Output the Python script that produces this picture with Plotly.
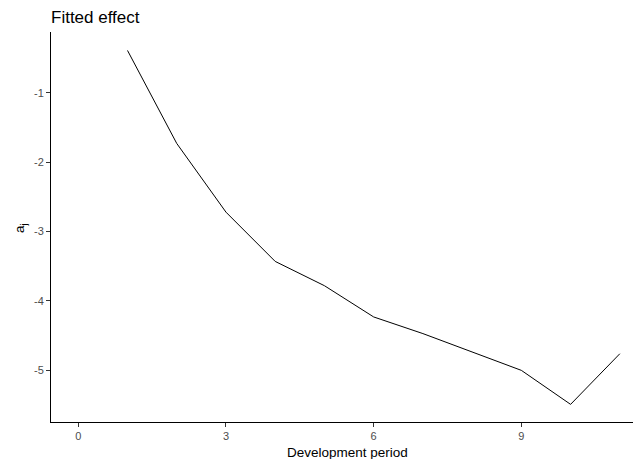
import plotly.graph_objects as go

dev_period = [1, 2, 3, 4, 5, 6, 7, 8, 9, 10, 11]
effect = [-0.39, -1.73, -2.72, -3.43, -3.78, -4.23, -4.47, -4.74, -5.00, -5.49, -4.76]
x_ticks = [0, 3, 6, 9]
y_ticks = [-1, -2, -3, -4, -5]

# the page body has an 8px margin, so the figure is placed at (8, 8) in the window
OFF = 8
W, H = 641 - OFF, 459 - OFF
L, R, T, B = 51 - OFF, 0, 32 - OFF, 37

fig = go.Figure()
fig.add_trace(go.Scatter(x=dev_period, y=effect, mode="lines",
                         line=dict(color="black", width=1), showlegend=False))

font = "Liberation Sans, Arial, sans-serif"
fig.update_layout(
    width=W, height=H,
    margin=dict(l=L, r=R, t=T, b=B),
    plot_bgcolor="white", paper_bgcolor="white",
    title=dict(text="Fitted effect", x=(51 - OFF) / W, xanchor="left", y=1 - (17 - OFF) / H,
               yanchor="middle", font=dict(family=font, size=17, color="black")),
    font=dict(family=font),
)
fig.update_xaxes(range=[-0.554, 11.43], tickvals=x_ticks, ticktext=[str(v) for v in x_ticks],
                 showgrid=False, zeroline=False, showline=True, linecolor="black", linewidth=1,
                 ticks="outside", ticklen=4, tickcolor="#333333", tickwidth=1, automargin=False,
                 tickfont=dict(size=11, color="#4D4D4D", family=font))
fig.update_yaxes(range=[-5.744, -0.124], tickvals=y_ticks, ticktext=[str(v) for v in y_ticks],
                 showgrid=False, zeroline=False, showline=True, linecolor="black", linewidth=1,
                 ticks="outside", ticklen=4, tickcolor="#333333", tickwidth=1, automargin=False,
                 tickfont=dict(size=11, color="#4D4D4D", family=font))

fig.add_annotation(text="Development period", xref="paper", yref="paper",
                   x=(348 - 51) / (W - L - R), y=-(452 - (459 - B)) / (H - T - B),
                   xanchor="center", yanchor="middle", showarrow=False,
                   font=dict(size=13.5, color="black", family=font))
fig.add_annotation(text="a<sub>j</sub>", xref="paper", yref="paper",
                   x=-(51 - 20) / (W - L - R), y=1 - (228 - 32) / (H - T - B),
                   xanchor="center", yanchor="middle", showarrow=False, textangle=-90,
                   font=dict(size=13.5, color="black", family=font))

fig.write_html("out.html")
